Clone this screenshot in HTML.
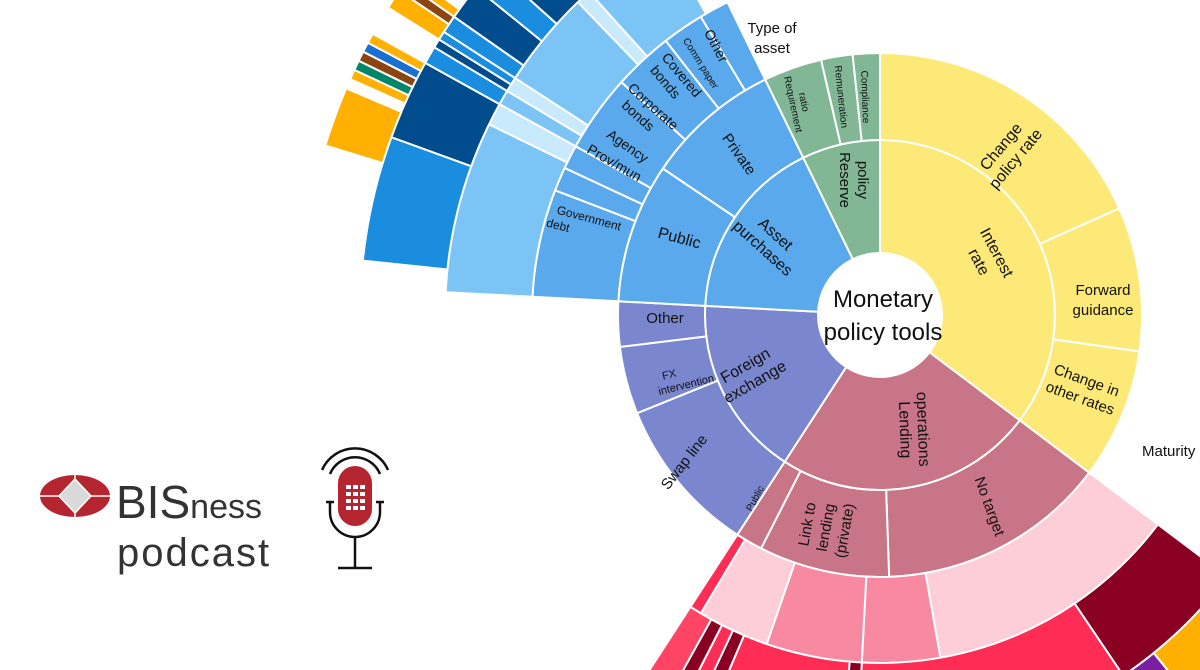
<!DOCTYPE html>
<html><head><meta charset="utf-8"><style>
html,body{margin:0;padding:0;background:#fff;width:1200px;height:670px;overflow:hidden}
svg{display:block;font-family:"Liberation Sans","DejaVu Sans",sans-serif}
</style></head><body>
<svg id="chart" width="1200" height="670" viewBox="0 0 1200 670">
<g id="segs"></g>
<g id="labels" fill="#111">
 <text x="883" y="307" font-size="24" text-anchor="middle">Monetary</text>
 <text x="883" y="340" font-size="24" text-anchor="middle">policy tools</text>
 <text transform="translate(992,255) rotate(62)" font-size="16" text-anchor="middle"><tspan x="0" y="0">Interest</tspan><tspan x="0" y="20">rate</tspan></text>
 <text transform="translate(900,430) rotate(88)" font-size="16" text-anchor="middle"><tspan x="0" y="0">Lending</tspan><tspan x="0" y="-18">operations</tspan></text>
 <text transform="translate(748,370) rotate(-30)" font-size="16" text-anchor="middle"><tspan x="0" y="0">Foreign</tspan><tspan x="0" y="19">exchange</tspan></text>
 <text transform="translate(772,238) rotate(42)" font-size="16" text-anchor="middle"><tspan x="0" y="0">Asset</tspan><tspan x="0" y="19">purchases</tspan></text>
 <text transform="translate(840,180) rotate(90)" font-size="15" text-anchor="middle"><tspan x="0" y="0">Reserve</tspan><tspan x="0" y="-18">policy</tspan></text>
 <text transform="translate(1005,150) rotate(-50)" font-size="16" text-anchor="middle"><tspan x="0" y="0">Change</tspan><tspan x="0" y="19">policy rate</tspan></text>
 <text x="1103" y="295" font-size="15" text-anchor="middle">Forward</text>
 <text x="1103" y="315" font-size="15" text-anchor="middle">guidance</text>
 <text transform="translate(1085,385) rotate(20)" font-size="15" text-anchor="middle"><tspan x="0" y="0">Change in</tspan><tspan x="0" y="19">other rates</tspan></text>
 <text transform="translate(985,508) rotate(70)" font-size="15" text-anchor="middle">No target</text>
 <text transform="translate(812,525) rotate(-80)" font-size="15" text-anchor="middle"><tspan x="0" y="0">Link to</tspan><tspan x="0" y="19">lending</tspan><tspan x="0" y="38">(private)</tspan></text>
 <text transform="translate(758,500) rotate(-62)" font-size="10" text-anchor="middle">Public</text>
 <text transform="translate(688,465) rotate(-52)" font-size="15" text-anchor="middle">Swap line</text>
 <text transform="translate(670,378) rotate(-14)" font-size="11" text-anchor="middle"><tspan x="0" y="0">FX</tspan><tspan x="14" y="14">intervention</tspan></text>
 <text x="665" y="323" font-size="15" text-anchor="middle">Other</text>
 <text transform="translate(678,243) rotate(15)" font-size="16" text-anchor="middle">Public</text>
 <text transform="translate(735,157) rotate(55)" font-size="15" text-anchor="middle">Private</text>
 <text transform="translate(588,222) rotate(15)" font-size="12" text-anchor="middle"><tspan x="0" y="0">Government</tspan><tspan x="-28" y="15">debt</tspan></text>
 <text transform="translate(612,167) rotate(30)" font-size="14" text-anchor="middle">Prov/mun</text>
 <text transform="translate(625,150) rotate(35)" font-size="14" text-anchor="middle">Agency</text>
 <text transform="translate(650,110) rotate(42)" font-size="14" text-anchor="middle"><tspan x="0" y="0">Corporate</tspan><tspan x="-5" y="17">bonds</tspan></text>
 <text transform="translate(678,78) rotate(50)" font-size="14" text-anchor="middle"><tspan x="0" y="0">Covered</tspan><tspan x="-5" y="17">bonds</tspan></text>
 <text transform="translate(698,65) rotate(58)" font-size="10" text-anchor="middle">Comm paper</text>
 <text transform="translate(712,48) rotate(62)" font-size="14" text-anchor="middle">Other</text>
 <text transform="translate(790,105) rotate(78)" font-size="10" text-anchor="middle"><tspan x="0" y="0">Requirement</tspan><tspan x="0" y="-11">ratio</tspan></text>
 <text transform="translate(838,97) rotate(84)" font-size="10" text-anchor="middle">Remuneration</text>
 <text transform="translate(862,97) rotate(88)" font-size="10" text-anchor="middle">Compliance</text>
 <text x="772" y="33" font-size="15" text-anchor="middle">Type of</text>
 <text x="772" y="53" font-size="15" text-anchor="middle">asset</text>
 <text x="1142" y="456" font-size="15">Maturity</text>
</g>
<g id="logo">
 <ellipse cx="75" cy="496" rx="35" ry="21" fill="#b5252f"/>
 <line x1="40" y1="496" x2="110" y2="496" stroke="#fff" stroke-width="1.5"/>
 <line x1="75" y1="475" x2="75" y2="517" stroke="#fff" stroke-width="1.5"/>
 <polygon points="75,479 91,496 75,513 59,496" fill="#d9d9d9" stroke="#fff" stroke-width="1.5"/>
 <text x="116" y="518" font-size="46" fill="#333">BIS<tspan font-size="34">ness</tspan></text>
 <text x="117" y="566" font-size="40" fill="#333" letter-spacing="2">podcast</text>
 <g fill="none" stroke="#111" stroke-width="2.5">
  <rect x="338" y="466" width="34" height="60" rx="17" fill="#b5252f" stroke="none"/>
  <path d="M330 474 A27 27 0 0 1 380 474"/>
  <path d="M322 470 A36 36 0 0 1 388 470"/>
  <path d="M330 502 v10 a25 25 0 0 0 50 0 v-10"/>
  <line x1="326" y1="502" x2="334" y2="502"/><line x1="376" y1="502" x2="384" y2="502"/>
  <line x1="355" y1="537" x2="355" y2="568"/><line x1="338" y1="568" x2="372" y2="568"/>
 </g>
 <g fill="#fff"><rect x="346" y="485" width="5" height="4"/><rect x="353" y="485" width="5" height="4"/><rect x="360" y="485" width="5" height="4"/>
 <rect x="346" y="492" width="5" height="4"/><rect x="353" y="492" width="5" height="4"/><rect x="360" y="492" width="5" height="4"/>
 <rect x="346" y="499" width="5" height="4"/><rect x="353" y="499" width="5" height="4"/><rect x="360" y="499" width="5" height="4"/>
 <rect x="346" y="506" width="5" height="4"/><rect x="353" y="506" width="5" height="4"/><rect x="360" y="506" width="5" height="4"/></g>
</g>
</svg>
<script>
// segment sizes in degrees of the full circle (clockwise from top); null colour = gap
const ring1Names = ["interest-rate","lending-operations","foreign-exchange","asset-purchases","reserve-policy"];
const ring1Values = [127,86,60,61,26];
const ring1Colors = ["#fde977","#c87588","#7a87cf","#5aa9ec","#82b796"];
const ring2Names = ["change-policy-rate","forward-guidance","change-other-rates","no-target","link-to-lending","public-lending","swap-line","fx-intervention","other-fx","public-assets","private-assets","requirement-ratio","remuneration","compliance"];
const ring2Values = [66,32,29,51,29,6,35,15,10,31,30,13,7,6];
const ring2Colors = ["#fde977","#fde977","#fde977","#c87588","#c87588","#c87588","#7a87cf","#7a87cf","#7a87cf","#5aa9ec","#5aa9ec","#82b796","#82b796","#82b796"];
const ring3Values = [127,43,13,16,12,2,60,18,4,4,13,10,7,5,26];
const ring3Colors = [null,"#fdcdd8","#f78aa0","#f78aa0","#fdcdd8","#ff2c55",null,"#5aa9ec","#5aa9ec","#5aa9ec","#5aa9ec","#5aa9ec","#5aa9ec","#5aa9ec",null];
const ring4Values = [127,19,37,2,18,2,2,2,4,60,23,3,2,2,13,2,12,30];
const ring4Colors = [null,"#8a0022","#ff2c55","#8a0022","#ff2c55","#8a0022","#ff2c55","#8a0022","#ff4466",null,"#7dc4f6","#c9e9fd","#7dc4f6","#c9e9fd","#7dc4f6","#c9e9fd","#7dc4f6",null];
const ring5Values = [127,14,4,3,128,14,9,2,1,1,2,4,3,7,4,37];
const ring5Colors = [null,"#ffb000","#7a1fa2",null,null,"#1a8ddf","#004c8c","#1a8ddf","#004c8c","#1a8ddf","#1a8ddf","#004c8c","#1a8ddf","#004c8c","#1a8ddf",null];
const ring6Values = [287,6,1,1,1,1,1,1,3,2,1,1,55];
const ring6Colors = [null,"#ffb000",null,"#ffb000","#00876a","#8b4513","#1a6fd0","#ffb000",null,"#ffb000","#8b4513","#ffb000",null];

const cx=880, cy=315;
const radii=[[62,175],[175,262],[262,348],[348,435],[435,520],[520,580]];
function px(r,a){const t=a*Math.PI/180;return [cx+r*Math.sin(t),cy-r*Math.cos(t)];}
function arc(r0,r1,a0,a1){
  const large=(a1-a0)>180?1:0;
  const p0=px(r1,a0),p1=px(r1,a1),p2=px(r0,a1),p3=px(r0,a0);
  return `M${p0[0]} ${p0[1]} A${r1} ${r1} 0 ${large} 1 ${p1[0]} ${p1[1]} L${p2[0]} ${p2[1]} A${r0} ${r0} 0 ${large} 0 ${p3[0]} ${p3[1]}Z`;
}
const g=document.getElementById('segs');
function drawRing(idx,vals,cols,names){
  let a=0;
  vals.forEach((v,i)=>{
    const c=cols[i];
    if(c){
      const p=document.createElementNS('http://www.w3.org/2000/svg','path');
      p.setAttribute('d',arc(radii[idx][0],radii[idx][1],a,a+v));
      p.setAttribute('fill',c);p.setAttribute('stroke','#fff');p.setAttribute('stroke-width','2');
      
      
      g.appendChild(p);
    }
    a+=v;
  });
}
drawRing(0,ring1Values,ring1Colors,ring1Names);
drawRing(1,ring2Values,ring2Colors,ring2Names);
drawRing(2,ring3Values,ring3Colors);
drawRing(3,ring4Values,ring4Colors);
drawRing(4,ring5Values,ring5Colors);
drawRing(5,ring6Values,ring6Colors);
</script>
</body></html>
